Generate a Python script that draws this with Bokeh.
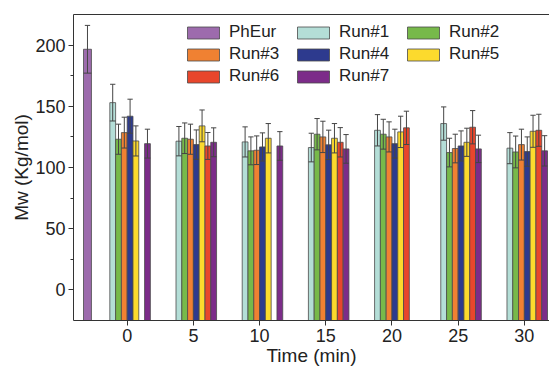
import numpy as np
from bokeh.plotting import figure
from bokeh.models import Range1d, LinearAxis, Legend, LegendItem, ColumnDataSource, FixedTicker
from bokeh.embed import file_html
from bokeh.resources import INLINE

nan = float("nan")

times = [0, 5, 10, 15, 20, 25, 30]
run_names = ["Run#1", "Run#2", "Run#3", "Run#4", "Run#5", "Run#6", "Run#7"]
run1 = [153.0, 121.5, 120.9, 116.3, 130.4, 135.9, 115.8]
run1_err = [15.0, 12.0, 12.3, 11.7, 12.8, 13.6, 12.7]
run2 = [123.1, 123.9, 113.6, 127.2, 127.2, 112.2, 112.7]
run2_err = [12.3, 12.5, 11.4, 12.8, 12.2, 11.7, 13.0]
run3 = [128.5, 123.1, 114.1, 125.0, 125.0, 115.5, 118.7]
run3_err = [12.6, 12.3, 11.7, 12.8, 12.3, 11.7, 12.6]
run4 = [141.9, 118.7, 116.8, 118.5, 119.5, 117.6, 113.0]
run4_err = [13.9, 12.0, 11.5, 12.0, 11.8, 12.3, 12.0]
run5 = [121.7, 134.0, 123.9, 123.9, 129.1, 120.6, 129.6]
run5_err = [12.3, 13.0, 12.0, 12.0, 12.8, 11.5, 13.1]
run6 = [nan, 117.6, nan, 120.6, 132.4, 132.9, 130.4]
run6_err = [nan, 11.0, nan, 12.0, 13.6, 13.6, 13.1]
run7 = [119.5, 120.6, 117.6, 115.2, nan, 115.2, 113.6]
run7_err = [11.8, 11.8, 11.7, 11.7, nan, 11.2, 12.4]

pheur_name = "PhEur"
pheur_time = [-3]
pheur = [196.6]
pheur_err = [19.5]

y_ticks = [0, 50, 100, 150, 200]
y_minor = [25, 75, 125, 175]
x_ticks = [0, 5, 10, 15, 20, 25, 30]

runs = [run1, run2, run3, run4, run5, run6, run7]
runs_err = [run1_err, run2_err, run3_err, run4_err, run5_err, run6_err, run7_err]
pheur_color = "#9D6BAD"
run_colors = ["#B4DED7", "#77B94A", "#F08132", "#2D3A8E", "#FCDA2D", "#E8462C", "#7C2C89"]

Y0, Y1 = -25, 225
X0, X1 = -4.056, 31.9
slot = 0.4375
pheur_w = 0.6
cap = 0.2

FONT = "Liberation Sans"

p = figure(width=549, height=368, output_backend="svg", toolbar_location=None,
           x_range=Range1d(X0, X1), y_range=Range1d(Y0, Y1),
           min_border_left=73, min_border_right=0, min_border_top=14, min_border_bottom=48)
p.outline_line_color = None
p.grid.visible = False
p.background_fill_color = "white"
p.border_fill_color = "white"

edge = "#4a4a4a"
errc = "#454545"


def draw(xs, vals, errs, color, width):
    xs2, v2, e2 = [], [], []
    for x, v, e in zip(xs, vals, errs):
        if not np.isnan(v):
            xs2.append(x); v2.append(v); e2.append(e)
    src = ColumnDataSource(dict(
        x=xs2, top=v2, lo=[v - e for v, e in zip(v2, e2)], hi=[v + e for v, e in zip(v2, e2)],
        cl=[x - cap for x in xs2], cr=[x + cap for x in xs2],
        bl=[x - width / 2 for x in xs2], br=[x + width / 2 for x in xs2]))
    r = p.vbar(x="x", top="top", bottom=Y0, width=width, source=src,
               fill_color=color, line_color=edge, line_width=0.8)
    p.segment(x0="x", y0="lo", x1="x", y1="hi", source=src, line_color=errc, line_width=1)
    p.segment(x0="cl", y0="hi", x1="cr", y1="hi", source=src, line_color=errc, line_width=1)
    p.segment(x0="bl", y0="lo", x1="br", y1="lo", source=src, line_color=errc, line_width=1)
    return r


renderers = [draw(pheur_time, pheur, pheur_err, pheur_color, pheur_w)]
for k in range(7):
    xs = [t + (k + 1 - 3.5) * slot for t in times]
    renderers.append(draw(xs, runs[k], runs_err[k], run_colors[k], slot))

names = [pheur_name] + run_names
items = [LegendItem(label=n, renderers=[r]) for n, r in zip(names, renderers)]
legend = Legend(items=items, orientation="horizontal", ncols=3,
                location=(110, 234), glyph_width=40, glyph_height=15,
                label_standoff=6, spacing=2, padding=0, margin=0, label_width=62,
                label_text_font=FONT, label_text_font_size="17px", label_height=15,
                label_text_color="#222222",
                border_line_color=None, background_fill_alpha=0)
p.add_layout(legend, "center")

for ax in (p.xaxis[0], p.yaxis[0]):
    ax.axis_line_color = "#333333"
    ax.major_tick_line_color = "#333333"
    ax.minor_tick_line_color = "#333333"
    ax.major_tick_in = 0
    ax.major_tick_out = 5
    ax.minor_tick_in = 0
    ax.minor_tick_out = 3
    ax.major_label_text_font = FONT
    ax.major_label_text_font_size = "18px"
    ax.major_label_text_color = "#222222"
    ax.axis_label_text_font = FONT
    ax.axis_label_text_font_size = "19px"
    ax.axis_label_text_font_style = "normal"
    ax.axis_label_text_color = "#222222"

p.yaxis[0].ticker = FixedTicker(ticks=y_ticks, minor_ticks=y_minor)
p.xaxis[0].ticker = FixedTicker(ticks=x_ticks, minor_ticks=[])
p.yaxis[0].axis_label = "Mw (Kg/mol)"
p.xaxis[0].axis_label = "Time (min)"
p.yaxis[0].major_label_standoff = 3
p.xaxis[0].major_label_standoff = 3
p.yaxis[0].axis_label_standoff = 0
p.xaxis[0].axis_label_standoff = 0

top_ax = LinearAxis(axis_line_color="#333333", ticker=FixedTicker(ticks=[], minor_ticks=[]),
                    major_tick_line_color=None, minor_tick_line_color=None,
                    major_label_standoff=0, major_tick_out=0, major_tick_in=0)
p.add_layout(top_ax, "above")

open("out.html", "w").write(file_html(p, INLINE))
